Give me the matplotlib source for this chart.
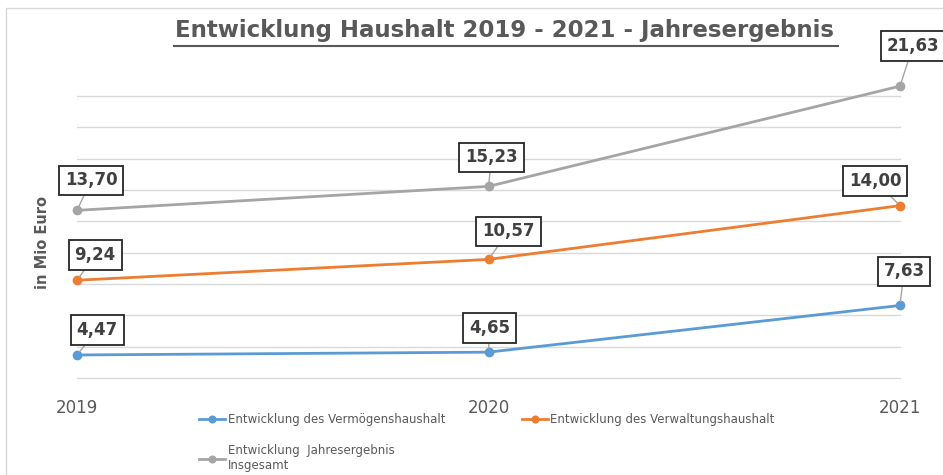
import matplotlib.pyplot as plt
from matplotlib.lines import Line2D
from matplotlib.patches import Rectangle

# Daten
jahre = [2019, 2020, 2021]
vermoegen = [4.47, 4.65, 7.63]
verwaltung = [9.24, 10.57, 14.00]
insgesamt = [13.70, 15.23, 21.63]
namen = ['Entwicklung des Vermögenshaushalt',
         'Entwicklung des Verwaltungshaushalt',
         'Entwicklung  Jahresergebnis\nInsgesamt']
farben = ['#5B9BD5', '#ED7D31', '#A5A5A5']

# Label-Versatz in Pixeln (dx, dy)
versatz = {
    'vermoegen': [(20, 25), (1, 24), (4, 34)],
    'verwaltung': [(18, 25), (20, 28), (-25, 25)],
    'insgesamt': [(14, 30), (3, 29), (13, 40)],
}

plt.rcParams['font.family'] = ['DejaVu Sans']
textgrau = '#595959'

fig = plt.figure(figsize=(9.43, 4.75), dpi=100)
fig.patches.append(Rectangle((0.006, -0.1), 1.2, 1.083, transform=fig.transFigure,
                             fill=False, ec='#D9D9D9', lw=1))
ax = fig.add_axes([0.0817, 0.2042, 0.8727, 0.5937])

reihen = [('vermoegen', vermoegen), ('verwaltung', verwaltung), ('insgesamt', insgesamt)]
handles = []
for (key, werte), farbe, name in zip(reihen, farben, namen):
    h, = ax.plot(jahre, werte, color=farbe, lw=2, marker='o', ms=6, clip_on=False, zorder=3)
    handles.append(h)
    for x, v, (dx, dy) in zip(jahre, werte, versatz[key]):
        ax.annotate(f'{v:.2f}'.replace('.', ','), xy=(x, v), xytext=(dx, dy),
                    textcoords='offset pixels', ha='center', va='center',
                    fontsize=12, fontweight='bold', color='#404040',
                    bbox=dict(boxstyle='square,pad=0.35', fc='white', ec='#262626', lw=1.3),
                    arrowprops=dict(arrowstyle='-', color='#A5A5A5', lw=1,
                                    shrinkA=0, shrinkB=3),
                    zorder=5, annotation_clip=False)

ax.set_xlim(2019, 2021)
ax.set_ylim(3, 21)
ax.set_yticks(range(3, 22, 2))
ax.set_yticklabels([])
ax.set_xticks(jahre)
ax.set_xticklabels([str(j) for j in jahre], fontsize=12, color=textgrau)
ax.tick_params(length=0, pad=15)
ax.tick_params(axis='y', length=0)
ax.grid(axis='y', color='#D9D9D9', lw=1)
for gl in ax.get_ygridlines():
    gl.set_clip_on(False)
ax.set_axisbelow(True)
for s in ax.spines.values():
    s.set_visible(False)

ax.set_ylabel('in Mio Euro', fontsize=10.5, fontweight='bold', color=textgrau)
ax.yaxis.set_label_coords(-0.033, 0.48)

fig.text(0.5355, 0.935, 'Entwicklung Haushalt 2019 - 2021 - Jahresergebnis',
         ha='center', va='center', fontsize=16.5, fontweight='bold', color=textgrau)
fig.add_artist(Line2D([0.184, 0.889], [0.904, 0.904], color=textgrau, lw=1.5))

# Legende: Spaltenweise befüllt -> Reihenfolge anpassen
leg = fig.legend([handles[0], handles[2], handles[1]], [namen[0], namen[2], namen[1]],
                 ncol=2, loc='upper left', bbox_to_anchor=(0.2, 0.152),
                 frameon=False, fontsize=8.5, labelcolor=textgrau,
                 handlelength=2.2, handletextpad=0.2, columnspacing=6.5,
                 labelspacing=1.5, markerscale=0.8)

fig.savefig('out.png', dpi=100)
